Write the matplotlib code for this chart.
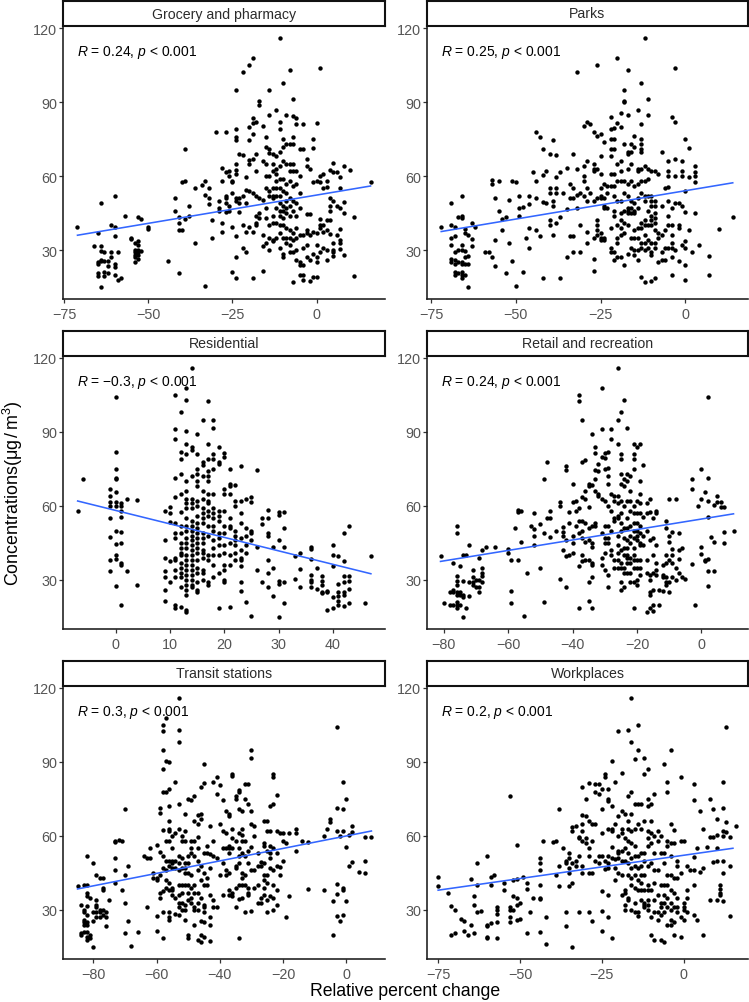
import numpy as np
import matplotlib
matplotlib.use("Agg")
import matplotlib.pyplot as plt

plt.rcParams['font.family'] = ['Liberation Sans', 'DejaVu Sans']
plt.rcParams['mathtext.fontset'] = 'custom'
plt.rcParams['mathtext.rm'] = 'Liberation Sans'
plt.rcParams['mathtext.it'] = 'Liberation Sans:italic'

titles = ["Grocery and pharmacy", "Parks", "Residential", "Retail and recreation", "Transit stations", "Workplaces"]
stats = [r"$\it{R}$ = 0.24, $\it{p}$ < 0.001", r"$\it{R}$ = 0.25, $\it{p}$ < 0.001", r"$\it{R}$ = $-$0.3, $\it{p}$ < 0.001",
         r"$\it{R}$ = 0.24, $\it{p}$ < 0.001", r"$\it{R}$ = 0.3, $\it{p}$ < 0.001", r"$\it{R}$ = 0.2, $\it{p}$ < 0.001"]

grocery = [(-71,39.5),(-65,37),(-64,49),(-60,52),(-57,44),(-61,40),(-60,39.5),(-60,35.5),(-66,31.5),(-64,31.5),(-64,29.5),(-63,29),(-61,29),(-59,29),(-61,27),(-64,26),(-65,25),(-65,24.5),(-64,25.5),(-63,25.5),(-62,25.5),(-62,23.5),(-60,24.5),(-60,23),(-65,20.5),(-65,19.5),(-63,21),(-63,19.5),(-62,20.5),(-60,20),(-59,18),(-58,18.5),(-64,15),
(-55,35),(-55,34.5),(-54,33),(-54,30),(-54,29),(-54,28),(-54,27),(-54,25),(-53,33.5),(-53,32),(-53,30),(-53,29),(-53,28),(-53,26.5),(-52,29.5),(-53,43.5),(-52,42.5),(-50,39.5),(-50,38.5),
(-44,25.5),(-41,20.5),(-42,51),(-42,46),(-41,43.5),(-41,41),(-41,38),(-40,38),(-39,42.5),(-40,57.5),(-39,58),(-39,71),(-38,48),(-38,44),(-36,55),(-36,33),(-34,56.5),(-33,58),(-33,52.5),(-33,15.5),(-32,55),(-32,51),(-32,48.5),(-31,42),(-31,35),(-30,78),(-29,50),(-29,47),(-29,46),(-28,63.5),(-28,58),(-28,41),(-28,37.5),(-27,78),(-27,61.5),(-27,52),(-27,51),(-27,49),(-27,45.5),(-26,62),(-26,60),(-26,48),(-26,46),(-25,53),(-25,58),(-25,57.5),(-25,39.5),(-25,21),
(-24,95),(-24,79),(-24,76),(-24,74.5),(-24,65),(-24,62.5),(-24,61),(-24,51),(-24,50),(-24,35.5),(-24,27),(-24,18.5),(-23,69),(-23,51),(-23,49),(-23,45.5),(-22,102.5),(-22,68.5),(-22,52),(-22,40),(-22,31),(-21,59.5),(-21,54.5),(-21,49),(-21,37.5),(-21,29),(-20,105),(-20,80),(-20,74.5),(-20,66.5),(-20,65),(-20,54),(-20,39.5),(-19,108),(-19,83.5),(-19,81.5),(-19,77),(-19,67),(-19,53),(-19,37.5),(-19,18.5),(-18,82),(-18,69),(-18,62),(-18,52),(-18,44),(-18,41),(-18,40),
(-17,90.5),(-17,89),(-17,51),(-17,45),(-17,43),(-16,80.5),(-16,66),(-16,50.5),(-16,36),(-16,31.5),(-16,21.5),(-15,76),(-15,72),(-15,65),(-15,60),(-15,55),(-15,47),(-15,43),(-15,33),(-14,95),(-14,85),(-14,71),(-14,69.5),(-14,60),(-14,54),(-14,52),(-14,40),(-14,35),(-14,30),
(-13,69),(-13,65),(-13,62),(-13,55),(-13,52),(-13,51),(-13,44),(-13,41),(-13,34),(-13,33.5),(-12,87),(-12,68),(-12,63),(-12,61),(-12,58),(-12,55),(-12,52),(-12,47),(-12,41),(-12,35),(-11,116),(-11,82),(-11,79),(-11,70),(-11,64),(-11,59),(-11,55),(-11,52),(-11,49),(-11,46),(-11,44),(-11,40),(-11,37),(-11,31),(-10,98),(-10,75),(-10,72),(-10,66),(-10,59),(-10,54),(-10,48),(-10,46),(-10,43),(-10,40),(-10,35),(-10,28.5),(-10,27),
(-9,85),(-9,73),(-9,65),(-9,57),(-9,53),(-9,50),(-9,47),(-9,45),(-9,39),(-9,35),(-9,33),(-8,103),(-8,73),(-8,65),(-8,62),(-8,58),(-8,51),(-8,48),(-8,44),(-8,38),(-8,35),(-8,32),(-8,29),(-7,91.5),(-7,84.5),(-7,76),(-7,73),(-7,65),(-7,62),(-7,56),(-7,50),(-7,46),(-7,37),(-7,34),(-7,29),(-7,17),
(-6,83.5),(-6,81),(-6,62),(-6,57),(-6,49),(-6,44),(-6,39),(-6,35),(-6,30),(-6,26),(-5,71),(-5,60),(-5,53),(-5,47),(-5,36),(-5,25),(-5,24),(-5,20),(-4,81),(-4,71),(-4,36),(-4,31),(-4,24),(-4,20),(-4,18),(-3,67),(-3,64),(-3,44.5),(-3,38),(-3,37),(-3,32),(-3,27),(-2,63),(-2,44.5),(-2,36),(-2,26),(-2,17.5),(-1,75),(-1,71.5),(-1,57.5),(-1,37.5),(-1,28.5),(-1,19),(0,81.5),(0,58),(0,37),(0,32),(0,27),(0,25),(0,19),
(1,104),(1,60),(1,57.5),(1,42.5),(1,40),(1,39),(1,29),(2,61),(2,55),(2,40),(2,37.5),(2,31),(3,58),(3,55.5),(3,42),(3,38),(3,30),(3,26),(4,62.5),(4,51),(4,48),(4,46),(4,42),(4,36.5),(5,65.5),(5,61.5),(5,50),(5,33),(5,30),(5,29),(5,27.5),(6,61.5),(6,48),(6,36),(7,59.5),(7,55),(7,47),(7,38.5),(7,34),(7,33),(7,30.5),(8,64),(8,49.5),(8,45),(8,28),(10,62.5),(11,43.5),(11,19.5),(16,57.5)]

parks = [(-72,39.5),(-69,49),(-69,40),(-69,35),(-69,32),(-69,26.5),(-69,25),(-68,39.5),(-68,35.5),(-68,29),(-68,26),(-68,24.5),(-68,21),(-68,20),(-67,43.5),(-67,30),(-67,25),(-67,20.5),(-66,52),(-66,44),(-66,43),(-66,32),(-66,30),(-66,25),(-66,24.5),(-66,21),(-66,20),(-66,18.5),(-65,38.5),(-65,37),(-65,29.5),(-65,27),(-65,24.5),(-65,20),(-64,36),(-64,27.5),(-64,24.5),(-64,15),(-63,41),(-63,34.5),(-63,31.5),(-62,39.5),
(-59,29),(-58,29),(-57,58.5),(-57,57),(-57,27),(-56,51),(-56,34),(-56,23.5),(-55,46),(-55,58),(-54,42.5),(-54,38),(-53,43.5),(-53,20.5),(-52,50.5),(-52,33),(-51,58),(-51,25.5),(-50,57.5),(-50,15.5),(-49,52),(-49,47),(-49,44),(-48,47.5),(-48,21),(-47,35),(-46,52),(-46,48.5),(-46,39),(-46,31),(-45,61.5),(-44,58),(-44,51),(-44,78),(-44,38),(-43,76),(-43,35.5),(-42,71),(-42,60.5),(-42,49.5),(-42,18.5),(-41,62),(-41,49),(-40,69),(-40,55),(-40,53),(-40,42),(-40,40),(-39,74.5),(-39,50),(-39,48),(-39,36),(-38,68.5),(-38,59.5),(-38,55),(-38,53),(-38,41),(-37,61.5),(-37,43.5),(-37,18.5),(-36,53),(-35,63.5),(-35,46.5),(-35,27),(-34,57),(-34,51),(-34,35.5),(-33,69),(-33,55),(-33,51),(-33,35.5),(-33,29),(-32,102.5),(-32,63),(-32,52.5),(-32,47),(-31,53),(-31,40),(-31,29),
(-30,80.5),(-30,64),(-30,60),(-30,58),(-30,52),(-29,82),(-29,66),(-29,55),(-29,50),(-29,37.5),(-29,33),(-28,81),(-28,53),(-27,78),(-27,65),(-27,63),(-27,62),(-27,50),(-27,35),(-27,26.5),(-27,21.5),(-26,105),(-26,76.5),(-26,63),(-26,51),(-26,42),(-26,40),(-26,38),(-26,36),(-25,77),(-25,68),(-25,61),(-25,55),(-25,52),(-25,51),(-25,37),(-25,35),(-25,34),(-24,74),(-24,57),(-24,51),(-24,48),(-24,47),(-24,35),(-24,34),(-23,56),(-23,53),(-23,47),
(-22,84),(-22,79),(-22,75),(-22,71),(-22,68),(-22,61),(-22,56),(-22,39),(-22,31),(-22,29),(-21,79.5),(-21,75),(-21,71),(-21,61),(-21,56),(-21,52),(-21,46),(-21,44),(-21,29),(-21,26),(-20,108),(-20,81.5),(-20,65),(-20,58),(-20,50),(-20,40),(-20,35),(-20,33),(-20,27),(-19,85.5),(-19,80),(-19,66),(-19,62),(-19,58),(-19,50),(-19,45),(-19,42),(-19,39),(-19,36),(-19,27),
(-18,95),(-18,90.5),(-18,90),(-18,73),(-18,58),(-18,53),(-18,46),(-18,41),(-18,37),(-18,24),(-17,103),(-17,85),(-17,70),(-17,69),(-17,63),(-17,57),(-17,52),(-17,47),(-17,46),(-17,45),(-17,40),(-17,28.5),(-16,73),(-16,70),(-16,65),(-16,58),(-16,50),(-16,47),(-16,45),(-16,35),(-16,31),(-15,76.5),(-15,72),(-15,56),(-15,49),(-15,46),(-15,45),(-15,38),(-15,35),(-15,30),(-15,28),
(-14,87),(-14,63),(-14,62),(-14,57),(-14,51),(-14,47),(-14,39),(-14,35),(-14,30),(-14,26),(-13,98),(-13,81),(-13,75),(-13,73),(-13,71),(-13,70),(-13,63),(-13,58),(-13,53),(-13,41),(-13,39),(-13,33),(-13,31),(-13,19),(-12,116),(-12,64),(-12,58),(-12,52),(-12,50),(-12,42),(-12,40),(-12,36),(-12,33),(-12,30),(-12,17),(-11,91.5),(-11,85),(-11,63),(-11,59),(-11,52),(-11,46),(-11,40),(-11,34),(-11,31),
(-10,62),(-10,52),(-10,50),(-10,48),(-10,44),(-10,42),(-10,40),(-10,33),(-10,29),(-10,28),(-10,17.5),(-9,62),(-9,50),(-9,48),(-9,45),(-9,43),(-9,41),(-9,38),(-9,33),(-9,31),(-9,18.5),(-8,61),(-8,37),(-8,35),(-8,25),(-7,70),(-7,48),(-7,36),(-7,29),(-7,26),(-6,55),(-6,38),(-6,31),(-6,26),(-5,66),(-5,62),(-5,60),(-5,55.5),(-5,50),(-5,44),(-5,40),(-5,31),(-4,84),(-4,47),(-4,40),(-4,36),(-4,33),(-4,31),(-4,27),(-4,20),(-3,104),(-3,82),(-3,67),(-3,60),(-3,49),(-3,30),(-2,49),(-2,39),(-2,40),(-2,25.5),
(-1,66),(-1,62),(-1,60),(-1,48),(-1,32),(0,75),(0,54),(0,45.5),(0,33.5),(0,31),(0,24),(0,18),(1,71.5),(1,59.5),(1,38),(2,29),(3,64),(3,61.5),(3,60),(3,57.5),(3,45),(4,32),(7,27.5),(7,20),(10,38.5),(14,43.5)]

residential = [(-7,58),(-6,71),(-1,67),(-1,64),(-1,61.5),(-1,60),(-1,55),(-1,47.5),(-1,38),(-1,33.5),(0,104),(0,82),(0,75),(0,71.5),(0,71),(0,65.5),(0,61.5),(0,60),(0,50),(0,44.5),(0,40),(0,38.5),(0,27.5),(1,61),(1,60),(1,58),(1,55.5),(1,49.5),(1,45),(1,37),(1,36),(1,20),(2,63),(2,33.5),(4,62.5),(4,28),
(9,58),(9,46),(9,39),(9,33.5),(9,31),(9,26),(9,21.5),(10,59.5),(10,57),(10,53.5),(10,37.5),(10,29),(11,105),(11,91),(11,87),(11,71.5),(11,63.5),(11,53),(11,49),(11,47),(11,39),(11,38),(11,34),(11,31),(11,20),(11,18.5),
(12,98),(12,82),(12,79),(12,73),(12,65),(12,57.5),(12,52),(12,49),(12,45),(12,43),(12,41),(12,40),(12,37),(12,35),(12,33),(12,31),(12,27),(12,19),
(13,108),(13,103),(13,90.5),(13,85),(13,81),(13,70),(13,66),(13,63),(13,61),(13,59),(13,55),(13,52),(13,50),(13,47),(13,45),(13,43),(13,40),(13,38),(13,36),(13,34),(13,32),(13,30),(13,28),(13,26),(13,24),(13,18),(13,17),
(14,116),(14,84),(14,82.5),(14,72),(14,63),(14,61),(14,59),(14,54),(14,52),(14,50),(14,48),(14,46),(14,44),(14,42),(14,40),(14,38),(14,36),(14,34),(14,32),(14,30),(14,28),(14,27),
(15,89),(15,81),(15,75),(15,73),(15,70),(15,68),(15,62),(15,60),(15,56),(15,53),(15,51),(15,49),(15,47),(15,45),(15,43),(15,41),(15,38),(15,35),(15,33),(15,29),(15,26),(15,25),
(16,95),(16,78),(16,76.5),(16,72),(16,66),(16,63),(16,59),(16,57),(16,55),(16,53),(16,49),(16,47),(16,45),(16,42),(16,41),(16,39),(16,34),(16,33),(16,30),
(17,102.5),(17,85),(17,79),(17,74),(17,72),(17,70),(17,65),(17,62),(17,61),(17,58),(17,56),(17,52),(17,48),(17,40),(17,38),(17,29),(17,28),
(18,95),(18,91.5),(18,81),(18,79),(18,75),(18,65),(18,59),(18,57),(18,55),(18,52),(18,50),(18,46),(18,43),(18,40),(18,36),(18,31),
(19,84),(19,78),(19,77),(19,58),(19,56),(19,54),(19,49),(19,47),(19,44),(19,40),(19,33),(19,18.5),
(20,81.5),(20,80),(20,67),(20,65),(20,58),(20,52),(20,49),(20,44),(20,41),(20,36),(20,34),(20,30),(20,29),
(21,75),(21,69),(21,68),(21,65),(21,55),(21,52),(21,51),(21,45),(21,40),(21,36),(21,19),
(22,68.5),(22,62),(22,60),(22,50),(22,48),(22,46),(22,44),(22,41),(22,38),
(23,76),(23,62),(23,57),(23,53),(23,47),(23,42),(23,39),(23,38),(23,35.5),(23,29),(23,25.5),
(24,63),(24,51),(24,48),(24,44),(24,41),(24,21),(25,63.5),(25,61.5),(25,50),(25,49),(25,46),(25,15.5),(26,74.5),(26,43.5),(26,34),(27,55),(27,52.5),(27,29),(28,58.5),(28,55),(28,49),(28,48),(28,38),(28,33),(28,27),(29,43.5),(29,35),(29,23.5),(30,57.5),(30,56.5),(30,46),(30,29.5),(30,28.5),(30,15),(31,57.5),(31,51),(31,43.5),(31,29),(31,20.5),
(33,39.5),(33,30.5),(34,41),(34,34.5),(34,27),(36,43.5),(36,42.5),(36,38.5),(36,32),(36,30),(36,29),(36,27),(37,35),(37,26.5),(38,31.5),(38,29.5),(38,28),(38,25),(38,24.5),(39,25.5),(39,25),(39,18),(40,44),(40,40),(40,35.5),(40,23),(40,18.5),(41,39.5),(41,28.5),(41,25),(41,23.5),(41,21.5),(41,20),(42,49),(42,37.5),(42,31.5),(42,29),(42,25),(42,24),(42,19.5),(43,52),(43,31.5),(43,29.5),(43,26.5),(43,20.5),(46,20.5),(47,39.5)]

retail = [(-81,39.5),(-80,20.5),(-78,25),(-78,20),(-77,37),(-77,26),(-77,25),(-77,20),(-76,52),(-76,49),(-76,31.5),(-76,29.5),(-76,28),(-76,25),(-76,24),(-76,21),(-76,20),(-76,18.5),(-75,35.5),(-75,25),(-75,24),(-75,20),(-74,40),(-74,29.5),(-74,24),(-74,23),(-74,15),(-73,40),(-73,18.5),(-72,44),(-72,29),(-72,23.5),(-71,34),(-71,31),(-71,29),(-71,28),(-70,30),(-70,27),(-69,39),(-69,30),(-69,27),(-69,25),(-68,42),(-68,35),(-68,33),(-68,31.5),(-68,29),(-67,43.5),(-64,43.5),
(-60,42.5),(-60,41),(-59,38),(-59,25.5),(-59,20.5),(-58,51),(-57,58.5),(-57,57.5),(-57,38),(-56,58),(-56,45.5),(-55,15.5),(-54,33),(-53,52),(-52,50.5),(-52,48),(-52,44),(-52,57),(-50,52.5),(-50,35),(-49,71),(-49,49),(-49,21),(-48,78),(-48,55),(-47,55),(-47,58),(-47,47.5),(-45,50),(-44,61.5),(-44,60),(-44,30.5),(-43,51.5),(-43,49.5),(-43,48),(-43,42),(-42,76),(-42,74.5),(-42,46),(-42,39.5),(-42,27),(-41,57.5),(-41,53),(-41,40),(-40,69),(-40,61.5),(-40,48),(-40,45),(-40,41),(-39,62),(-39,58),(-39,52),(-38,105),(-38,102.5),(-38,59),(-38,54),(-38,49),(-38,35.5),(-38,18.5),(-37,95),(-37,78),(-37,63.5),(-37,54),(-37,50),(-37,47),(-37,40),(-37,37.5),(-36,78.5),(-36,66),(-36,63),(-36,53),(-36,45.5),(-36,38),
(-35,69),(-35,68),(-35,59.5),(-35,51),(-35,46),(-35,38),(-35,29),(-35,21.5),(-34,89),(-34,68.5),(-34,52),(-34,45),(-34,43.5),(-34,37),(-34,36),(-34,31),(-34,18.5),(-33,84),(-33,81.5),(-33,74.5),(-33,71),(-33,66),(-33,53),(-33,52),(-32,77),(-32,74),(-32,65),(-32,64),(-31,108),(-31,91),(-31,80),(-31,63),(-31,49),(-31,39),(-31,36),(-30,81.5),(-30,79.5),(-30,75),(-30,62),(-30,52),(-30,47),(-30,45),(-30,41),(-30,34),
(-29,82),(-29,75.5),(-29,72),(-29,69),(-29,60),(-29,52),(-29,47),(-29,45),(-29,32),(-29,27),(-28,91),(-28,87),(-28,65),(-28,58),(-28,50),(-28,42),(-28,40),(-27,64),(-27,62),(-27,55),(-27,54),(-27,38),(-27,35),(-26,95),(-26,85),(-26,64),(-26,61),(-26,56),(-26,55),(-26,48),(-26,44),(-26,41),(-26,38),(-26,35),(-26,116),
(-25,98),(-25,81),(-25,79),(-25,73),(-25,69),(-25,62),(-25,57),(-25,53),(-25,50),(-25,42),(-25,37),(-25,35),(-25,29),(-25,26),(-24,103),(-24,71),(-24,68),(-24,60),(-24,51),(-24,47),(-24,43),(-24,40),(-24,35),(-24,33),(-24,27),(-23,91.5),(-23,73),(-23,70),(-23,62),(-23,55),(-23,51),(-23,46),(-23,43),(-23,40),(-23,39),(-23,37),(-23,33),
(-22,72),(-22,66),(-22,62),(-22,58),(-22,52),(-22,48),(-22,45),(-22,39),(-22,37),(-22,33),(-22,29),(-21,85),(-21,81),(-21,79),(-21,75),(-21,60),(-21,57),(-21,53),(-21,50),(-21,47),(-21,43),(-21,40),(-21,38),(-21,35),(-21,29),(-21,18.5),(-20,84),(-20,62),(-20,57),(-20,53),(-20,50),(-20,48),(-20,46),(-20,38),(-20,35),(-20,30),(-20,28),
(-19,85),(-19,70),(-19,65),(-19,61),(-19,57),(-19,52),(-19,49),(-19,45),(-19,44),(-19,38),(-19,35),(-19,32),(-18,76.5),(-18,55.5),(-18,48),(-18,44),(-17,61),(-17,57),(-17,50),(-17,38),(-17,33),(-17,17),(-16,63),(-16,57.5),(-16,46),(-16,32),(-16,30),(-16,25),(-16,24),(-16,18.5),(-15,55),(-15,47),(-15,40),(-15,33),(-15,26),(-15,20),(-15,17.5),(-14,58),(-14,57),(-14,44),(-14,37),(-14,34),(-14,32),(-13,26),(-13,20),(-12,36),(-12,32),(-12,31),(-12,25.5),(-11,54),(-11,51),(-11,40),(-11,37),(-11,31),(-11,29),(-11,28),(-10,63),(-10,48),(-10,45.5),(-10,38),(-10,29),(-10,25),(-9,49.5),(-9,42.5),(-9,40),(-9,37),(-9,31),(-8,63),(-8,35),(-8,30),(-7,49),(-7,42),(-7,38.5),(-7,33),(-6,43),(-6,31),(-5,30.5),
(-3,71),(-3,67),(-3,36.5),(-2,20),(-1,60),(0,75),(0,63),(0,43.5),(0,40.5),(1,65.5),(1,38),(1,37.5),(2,104),(2,71.5),(2,62),(2,55.5),(2,38.5),(2,33.5),(2,27.5),(3,47.5),(4,60.5),(4,45.5),(4,33.5),(5,64),(5,61.5),(6,61.5),(6,59.5),(7,59.5),(7,49.5),(7,45),(10,50)]

transit = [(-85,39.5),(-84,32),(-84,20.5),(-84,20),(-83,40),(-83,30),(-83,29),(-83,26),(-83,25),(-83,24),(-83,21),(-82,52),(-82,40),(-82,37),(-82,35.5),(-82,31.5),(-82,28),(-82,25),(-82,24),(-82,21),(-82,19),(-82,18),(-81,35),(-81,20),(-81,18.5),(-80,49),(-80,29),(-80,25.5),(-80,15),(-79,44),(-79,34),(-79,32),(-79,31),(-79,29),(-79,27),(-78,43),(-78,30),(-78,29),(-78,27),(-77,43),(-77,39),(-77,38),(-77,30),(-77,28),(-76,29),(-76,27),(-76,23.5),(-75,34),(-73,58),(-73,57.5),(-73,51),(-73,46),(-73,41),(-72,58.5),(-71,38),(-71,58),(-70,71),(-70,44),(-70,33),(-70,20.5),(-69,48),(-69,25.5),(-68,15.5),(-66,21),
(-64,52),(-63,51),(-63,31),(-62,55),(-62,51),(-61,45),(-61,43),(-60,42),(-60,21.5),(-60,56.5),(-60,43),(-60,27.5),(-59,71.5),(-59,69.5),(-59,53.5),(-59,44),(-59,37),(-59,35),(-58,105),(-58,102.5),(-58,95),(-58,87),(-58,78),(-58,62.5),(-58,52),(-58,47),(-58,37.5),(-58,29),(-58,18.5),
(-57,108),(-57,90.5),(-57,78),(-57,58),(-57,50),(-57,46),(-57,42),(-57,39),(-56,90),(-56,79),(-56,72),(-56,66),(-56,63),(-56,62),(-56,58),(-56,50),(-56,48),(-56,41),(-56,38),(-56,29),(-56,27),(-56,26),(-55,60),(-55,55),(-55,50),(-55,49),(-55,47),(-55,39),(-55,38),(-55,36),(-54,82),(-54,61),(-54,50),(-54,47),(-54,35),(-54,28.5),(-53,116),(-53,103),(-53,98),(-53,73),(-53,63),(-53,52),(-53,49),(-53,46),(-53,40),(-53,36),(-53,33),(-53,31),(-53,28),
(-52,60),(-52,58),(-52,51),(-52,47),(-52,40),(-52,37),(-52,33),(-52,30),(-51,69),(-51,62),(-51,58),(-51,49),(-51,47),(-51,45),(-51,40),(-51,32),(-51,30),(-51,26),(-50,75),(-50,52),(-50,49),(-50,45),(-50,40),(-50,37),(-50,34),(-50,20),(-50,18.5),(-49,74.5),(-49,58),(-49,55),(-49,53),(-49,44),(-49,39),(-49,35),(-49,33),(-48,76),(-48,66),(-48,58),(-48,52),(-48,40),(-48,37),(-48,31),(-48,30),(-48,24),
(-47,68.5),(-47,65),(-47,59.5),(-47,55),(-47,50),(-47,46),(-47,37),(-47,33),(-47,30),(-47,18),(-46,80),(-46,69),(-46,67),(-46,48),(-46,42),(-46,35),(-46,25.5),(-46,20),(-46,17),(-45,89),(-45,81.5),(-45,53),(-45,45),(-45,40),(-45,32),(-45,31),(-45,29),(-45,25),(-45,19),(-44,56),(-44,53),(-44,43),(-44,40),(-43,64),(-43,52.5),(-43,36),(-43,47),(-43,27),(-43,24),(-43,17.5),(-42,82),(-42,58),(-42,52),(-42,34),(-42,31),(-41,84),(-41,77),(-41,51),(-41,31),(-40,80.5),(-40,65),(-40,44),(-39,74.5),(-39,62),(-39,55),(-39,49),(-39,36),
(-38,70),(-38,61),(-38,55),(-38,46),(-38,44),(-37,69),(-37,68),(-37,56),(-37,55),(-37,53),(-37,45),(-37,38),(-37,36),(-36,85),(-36,84.5),(-36,63),(-36,59),(-36,55),(-36,37),(-36,35.5),(-35,75),(-35,76),(-35,58),(-35,48),(-35,47),(-35,39),(-35,31),(-34,78.5),(-34,78),(-34,71),(-34,61),(-34,55),(-34,52),(-34,49),(-34,40),(-34,34.5),(-34,18.5),(-33,70),(-33,63),(-33,60.5),(-33,58),(-33,53),(-33,45),(-33,43),(-33,40),(-33,35),(-32,81),(-32,75),(-32,58),(-32,52),(-32,44),(-32,40),(-32,29),(-31,81),(-31,73),(-31,54),(-31,49),(-31,39),(-31,37),(-31,36),
(-30,95),(-30,91.5),(-30,70),(-30,65),(-30,55.5),(-30,46),(-30,29.5),(-29,64),(-29,60),(-29,46),(-29,39),(-28,53),(-28,48),(-28,40),(-28,33),(-27,49.5),(-27,48),(-27,35),(-27,33),(-26,66),(-26,57),(-26,56),(-26,49),(-26,44),(-26,42),(-26,39),(-26,36),(-25,66),(-25,62),(-25,54),(-25,44),(-25,41),(-25,34),(-25,29),(-24,72),(-24,62),(-24,56),(-24,53),(-24,51),(-24,47),(-24,35.5),(-23,85),(-23,84),(-23,73),(-23,55),(-23,46),(-23,40),(-23,35),(-23,30),(-22,76.5),(-22,62),(-22,53),(-22,48),(-22,38),(-22,32),(-21,47.5),(-21,44),
(-20,58),(-20,50),(-21,61),(-20,61),(-19,57),(-19,27),(-18,61),(-18,35.5),(-16,63),(-16,61),(-16,54),(-14,58),(-12,57.5),(-12,38.5),(-7,60),(-7,38),(-6,63),(-5,67),(-5,65.5),(-4,33.5),(-4,20),(-3,104),(-3,71.5),(-3,62),(-3,40.5),(-3,36.5),(-3,27.5),(-2,60),(-2,25.5),(-1,82),(-1,71),(-1,62),(-1,39),(-1,38),(-1,28),(0,75),(0,55.5),(0,33.5),(1,60.5),(1,48),(2,64),(2,61.5),(2,49.5),(4,45.5),(6,59.5),(6,50),(6,45),(8,59.5)]

work = [(-75,43.5),(-75,39.5),(-72,37),(-71,31.5),(-70,30),(-71,20),(-70,20.5),(-68,26.5),(-67,25.5),(-67,21.5),(-66,20),(-65,42.5),(-65,24),(-64,35.5),(-64,32),(-64,20.5),(-63,49),(-63,40),(-63,29),(-62,29.5),(-60,52),(-60,24),(-60,23.5),(-60,19),(-60,18.5),(-59,43.5),(-59,40),(-59,24.5),(-58,44),(-57,31),(-57,30),(-57,28.5),(-57,25),(-57,18.5),(-55,41),(-55,38),(-53,76),(-53,31),(-53,30),(-53,27),(-53,25),(-52,42),(-52,35.5),(-52,30),(-51,56.5),(-51,42.5),(-51,35),(-51,32),(-51,26),(-50,33),(-50,26.5),(-49,43.5),(-48,41),(-48,38.5),(-48,20.5),(-47,29),(-46,35),
(-44,51),(-44,49),(-44,46),(-44,40),(-44,35),(-44,34.5),(-44,21),(-43,58),(-42,27),(-42,16),(-40,57.5),(-39,58),(-39,44),(-38,71),(-38,48),(-38,39.5),(-37,55),(-36,50),(-36,49),(-36,29),(-36,23.5),(-35,53),(-35,51),(-35,47),(-35,45),(-35,39.5),(-34,63.5),(-34,62),(-34,49),(-34,41),(-34,15),(-33,64),(-33,48),(-33,50),(-32,59.5),(-32,59),(-32,52),(-32,29),(-31,80),(-31,68.5),(-31,65),(-31,62),(-31,58),(-31,48),(-31,45),(-30,75),(-30,68),(-30,59),(-30,57),(-29,81.5),(-29,66),(-29,55),(-29,52),(-29,45),(-29,29),(-28,65),(-28,58),(-28,45),(-28,25.5),
(-27,81),(-27,78),(-27,65),(-27,50),(-26,81),(-26,77),(-26,52),(-26,49),(-25,79),(-25,61),(-25,52),(-25,37.5),(-25,29.5),(-25,21.5),(-25,71),(-24,85),(-24,84),(-24,50),(-24,46.5),(-23,79),(-23,75),(-23,74),(-23,63),(-23,52),(-23,49),(-23,47),(-23,36),(-23,27),(-22,90.5),(-22,72),(-22,63),(-22,62),(-22,55.5),(-22,51),(-22,18.5),(-21,82),(-21,65),(-21,50.5),(-21,47),(-21,42),(-20,102.5),(-20,68),(-20,60),(-20,54),(-20,53),(-20,51),(-20,45),(-19,85.5),(-19,70),(-19,63),(-19,61),(-19,54),(-19,50),(-19,44),(-19,36),
(-18,69),(-18,59),(-18,55),(-18,50),(-18,38),(-18,32),(-18,30),(-18,37),(-17,103),(-17,76),(-17,66),(-17,63),(-17,58),(-17,53),(-17,49),(-17,44),(-17,35),(-17,34),(-16,116),(-16,98),(-16,78),(-16,69),(-16,62),(-16,57),(-16,51),(-16,47),(-16,43),(-16,40),(-16,30),(-15,91),(-15,73),(-15,63),(-15,56),(-15,52),(-15,48),(-15,44),(-15,39),(-15,33),(-15,29),(-14,105),(-14,95),(-14,73),(-14,65),(-14,52),(-14,47),(-14,42),(-14,38),(-14,29),(-14,27.5),(-13,73),(-13,63),(-13,53),(-13,48),(-13,44),(-13,41),(-13,38),(-13,34),
(-12,91.5),(-12,85),(-12,66),(-12,53),(-12,50),(-12,44),(-12,38),(-12,33),(-12,32),(-12,31),(-11,87),(-11,75),(-11,72),(-11,62),(-11,59),(-11,56),(-11,48),(-11,40),(-11,38),(-11,34),(-11,32),(-11,30),(-10,73),(-10,66),(-10,61),(-10,57),(-10,49),(-10,38),(-10,27),(-10,20),(-9,77),(-9,60),(-9,53),(-9,46),(-9,41),(-9,34),(-9,29),(-9,18),(-8,62),(-8,58),(-8,46),(-8,36),(-8,29),(-8,26),(-7,60),(-7,53),(-7,40),(-7,33),(-7,31),(-7,28),(-7,18),(-6,89),(-6,53),(-6,49),(-6,40),(-6,36),(-6,33),(-6,29),(-6,17),
(-5,82),(-5,78),(-5,58),(-5,56),(-5,44),(-5,40),(-5,35),(-5,31),(-5,24),(-4,95),(-4,65),(-4,57),(-4,52),(-4,44),(-4,38),(-4,33),(-4,30),(-4,26),(-4,24),(-3,62.5),(-3,57),(-3,43),(-3,37),(-3,31),(-3,25),(-3,20),(-2,50),(-2,48),(-2,43),(-2,35),(-2,31),(-2,29),(-1,84),(-1,58),(-1,45),(-1,27),(-1,19),(0,58),(0,33),(0,31),(0,30),(0,26),(1,48),(1,38),(1,35),(1,29),(2,46),(3,81),(3,74.5),(3,51.5),(3,40),(3,28),(3,46),(4,55),(4,26),(5,70),(5,45.5),(6,63),(6,47),(6,20),(7,55.5),(8,75),(8,59.5),(8,34),(9,71),(9,59.5),(9,49.5),(10,67),(10,60.5),(10,55),(10,50),(10,34),(11,40),(11,38.5),(11,37),(11,36),(12,82),(12,71.5),(12,62),(12,60),(12,50),(12,45),(12,33.5),(13,104),(13,65.5),(13,61.5),(14,59.5),(14,48),(14,27.5),(16,64)]

points = [grocery, parks, residential, retail, transit, work]
line_x = [(-71, 16), (-72, 14), (-7, 47), (-81, 10), (-85, 8), (-75, 15)]
line_y = [(36, 56), (37.5, 57.3), (62, 32.5), (37.5, 56.8), (38.5, 62), (38, 55)]
xlims = [(-75.3, 20.3), (-76.2, 18.5), (-9.7, 49.6), (-85.2, 14.5), (-89.6, 12.3), (-78.4, 19.6)]
xticks = [[-75, -50, -25, 0], [-75, -50, -25, 0], [0, 10, 20, 30, 40],
          [-80, -60, -40, -20, 0], [-80, -60, -40, -20, 0], [-75, -50, -25, 0]]
yticks = [30, 60, 90, 120]
ylim = (10.3, 121)

W, H = 749, 1003
fig = plt.figure(figsize=(W / 100, H / 100), dpi=100, facecolor='white')
col_px = [(63, 385), (427, 748)]
row_px = [(2, 27, 299.5), (331.5, 356.5, 629.5), (661.5, 686.5, 959.5)]

for i in range(6):
    r, c = divmod(i, 2)
    l, rgt = col_px[c]
    stop, atop, abot = row_px[r]
    ax = fig.add_axes([l / W, 1 - abot / H, (rgt - l) / W, (abot - atop) / H])
    pts = np.array(points[i], dtype=float)
    ax.scatter(pts[:, 0], pts[:, 1], s=10, color='black', linewidths=0, zorder=2)
    ax.plot(line_x[i], line_y[i], color='#3366FF', lw=1.15, zorder=3)
    ax.set_xlim(xlims[i]); ax.set_ylim(ylim)
    ax.set_xticks(xticks[i]); ax.set_yticks(yticks)
    ax.set_xticklabels([str(t).replace('-', '\u2212') for t in xticks[i]])
    ax.tick_params(labelcolor='#555555', labelsize=10.4, length=2.6, width=0.9, color='#333333')
    ax.tick_params(axis='x', pad=3.2)
    ax.tick_params(axis='y', pad=1.8)
    for s in ('top', 'right'):
        ax.spines[s].set_visible(False)
    for s in ('left', 'bottom'):
        ax.spines[s].set_linewidth(1.15); ax.spines[s].set_color('#1a1a1a')
    ax.text(0.045, 0.906, stats[i], transform=ax.transAxes, fontsize=10,
            ha='left', va='center', color='black', zorder=4)
    sax = fig.add_axes([l / W, 1 - atop / H, (rgt - l) / W, (atop - stop) / H])
    sax.set_xticks([]); sax.set_yticks([])
    for sp in sax.spines.values():
        sp.set_linewidth(1.5); sp.set_color('#111111')
    sax.text(0.5, 0.5, titles[i], ha='center', va='center', fontsize=10.2, color='#2b2b2b', transform=sax.transAxes)

fig.text(12.5 / W, 1 - 493 / H, "Concentrations(\u03bcg$\\,/\\,$m$^{3}$)", rotation=90, ha='center', va='center', fontsize=12.9, color='black')
fig.text(405 / W, 1 - 992 / H, "Relative percent change", ha='center', va='center', fontsize=12.7, color='black')
fig.savefig('out.png', dpi=100)
